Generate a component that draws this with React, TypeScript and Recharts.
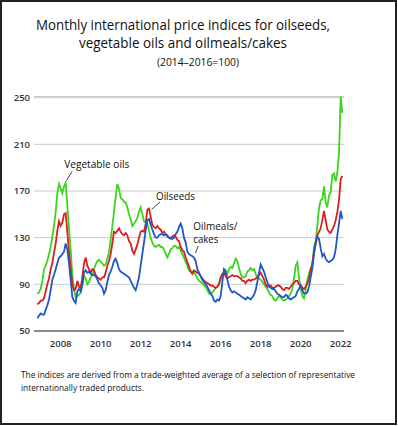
import React from 'react';
import { LineChart, Line, XAxis, YAxis, CartesianGrid } from 'recharts';

// Monthly values, January 2007 to April 2022 (2014–2016 = 100)
const START_YEAR = 2007;

const vegetableOils = [
  82, 83, 86, 93, 103, 106, 110, 116, 122, 131, 140, 152, // 2007
  168, 176, 172, 168, 174, 177, 158, 138, 120, 98, 86, 79, // 2008
  80, 81, 83, 89, 97, 95, 90, 92, 96, 98, 103, 107, // 2009
  110, 111, 109, 108, 106, 107, 112, 118, 128, 140, 152, 165, // 2010
  176, 172, 164, 163, 161, 160, 156, 150, 146, 140, 142, 144, // 2011
  147, 152, 156, 150, 144, 143, 142, 136, 130, 126, 123, 122, // 2012
  123, 124, 122, 122, 120, 116, 113, 116, 120, 121, 123, 123, // 2013
  121, 122, 119, 116, 113, 109, 106, 102, 101, 101, 100, 98, // 2014
  95, 93, 92, 91, 89, 88, 85, 82, 82, 83, 85, 87, // 2015
  88, 91, 94, 98, 100, 102, 99, 103, 105, 104, 108, 112, // 2016
  110, 104, 99, 96, 96, 97, 101, 102, 104, 102, 103, 99, // 2017
  96, 95, 94, 92, 90, 88, 86, 83, 81, 80, 77, 76, // 2018
  78, 80, 79, 77, 76, 77, 78, 80, 82, 86, 95, 106, // 2019
  109, 96, 86, 80, 78, 85, 94, 99, 104, 106, 122, 127, // 2020
  140, 155, 162, 163, 174, 160, 156, 166, 169, 184, 185, 178, // 2021
  186, 202, 251, 237, // 2022
];

const oilseeds = [
  73, 74, 76, 76, 78, 84, 90, 95, 103, 108, 117, 125,
  136, 144, 140, 143, 150, 151, 135, 118, 104, 90, 85, 86,
  93, 88, 87, 96, 108, 113, 106, 103, 100, 103, 102, 98,
  96, 95, 94, 96, 96, 100, 106, 110, 116, 125, 135, 134,
  136, 138, 135, 133, 132, 134, 132, 127, 125, 119, 116, 120,
  124, 130, 135, 136, 135, 142, 154, 155, 148, 141, 139, 138,
  140, 138, 137, 134, 135, 133, 132, 130, 129, 131, 132, 131,
  128, 127, 122, 119, 118, 113, 109, 105, 101, 99, 102, 101,
  100, 99, 97, 95, 93, 92, 91, 90, 89, 89, 88, 87,
  88, 90, 96, 99, 100, 97, 95, 96, 97, 98, 97, 97,
  97, 96, 95, 93, 93, 91, 93, 94, 93, 94, 94, 95,
  96, 98, 100, 97, 94, 90, 88, 89, 89, 87, 87, 88,
  89, 89, 88, 86, 85, 87, 87, 86, 88, 90, 91, 93,
  93, 90, 89, 87, 86, 88, 91, 95, 102, 108, 118, 124,
  132, 135, 138, 145, 153, 145, 137, 135, 134, 137, 140, 145,
  152, 162, 180, 183,
];

const oilmeals = [
  61, 63, 65, 64, 64, 68, 72, 77, 85, 94, 98, 103,
  108, 113, 114, 116, 118, 125, 120, 108, 94, 79, 76, 74,
  84, 86, 84, 90, 100, 102, 100, 101, 99, 98, 98, 97,
  94, 91, 89, 87, 82, 85, 92, 98, 101, 105, 110, 112,
  108, 103, 101, 100, 99, 98, 97, 96, 93, 90, 87, 85,
  90, 96, 106, 116, 126, 136, 145, 146, 141, 137, 133, 130,
  130, 132, 133, 133, 132, 133, 131, 130, 130, 129, 130, 133,
  135, 139, 142, 138, 130, 126, 118, 116, 115, 114, 113, 110,
  103, 100, 97, 94, 92, 90, 88, 85, 82, 80, 76, 75,
  77, 76, 80, 92, 103, 101, 94, 88, 85, 83, 84, 83,
  82, 81, 80, 79, 78, 77, 79, 78, 77, 79, 81, 85,
  92, 100, 107, 104, 101, 96, 92, 88, 87, 86, 86, 84,
  82, 81, 80, 79, 79, 81, 80, 78, 77, 78, 79, 80,
  84, 86, 89, 85, 82, 82, 83, 88, 96, 104, 116, 126,
  131, 129, 121, 114, 116, 112, 110, 109, 110, 111, 113, 120,
  132, 142, 153, 146,
];

const yearLabels = [2008, 2010, 2012, 2014, 2016, 2018, 2020, 2022];
const yTicks = [50, 90, 130, 170, 210, 250];

const data = vegetableOils.map((v, i) => ({
  m: i,
  veg: v,
  seeds: oilseeds[i],
  meals: oilmeals[i],
}));

const LABEL_SHIFT = 2; // year labels sit a little after January
const xTicks = yearLabels.map((y) => (y - START_YEAR) * 12 + LABEL_SHIFT);
const yearOf = (m: number) => String(START_YEAR + Math.round((m - LABEL_SHIFT) / 12));

const GREEN = '#3cd41c';
const RED = '#d8201c';
const BLUE = '#1f57c6';
const FONT = '"Open Sans", "Noto Sans", sans-serif';

export default function App() {
  return (
    <div style={{ position: 'relative', width: 398, height: 426, background: '#fff', fontFamily: FONT }}>
      <style>{`body{margin:0}`}</style>
      <div style={{ position: 'absolute', left: 0, top: 0 }}>
        <LineChart
          width={398}
          height={426}
          data={data}
          margin={{ top: 96.5, right: 54, bottom: 75, left: 4 }}
        >
          <CartesianGrid vertical={false} stroke="#cacaca" strokeWidth={1} />
          <XAxis
            dataKey="m"
            type="number"
            domain={[-2, 184]}
            ticks={xTicks}
            tickFormatter={yearOf}
            height={20}
            axisLine={{ stroke: '#8c8c8c', strokeWidth: 2 }}
            tickLine={false}
            tickSize={0}
            tickMargin={9}
            tick={{ fontSize: 9.5, fill: '#333', fontWeight: 600, fontFamily: FONT }}
          />
          <YAxis
            type="number"
            domain={[50, 250]}
            ticks={yTicks}
            width={30}
            axisLine={false}
            tickLine={false}
            tickSize={0}
            tickMargin={4}
            tick={{ fontSize: 9.5, fill: '#333', fontWeight: 600, fontFamily: FONT }}
          />
          <Line dataKey="veg" stroke={GREEN} strokeWidth={1.8} dot={false} isAnimationActive={false} />
          <Line dataKey="seeds" stroke={RED} strokeWidth={1.8} dot={false} isAnimationActive={false} />
          <Line dataKey="meals" stroke={BLUE} strokeWidth={1.8} dot={false} isAnimationActive={false} />
        </LineChart>
      </div>
      <svg
        width={398}
        height={426}
        style={{ position: 'absolute', left: 0, top: 0, pointerEvents: 'none' }}
        fontFamily={FONT}
      >
        <rect x={1} y={1} width={395} height={423} fill="none" stroke="#222" strokeWidth={2} />
        <text x={183} y={30} textAnchor="middle" fontSize={15} fill="#111" textLength={294} lengthAdjust="spacingAndGlyphs">
          Monthly international price indices for oilseeds,
        </text>
        <text x={183} y={48} textAnchor="middle" fontSize={15} fill="#111" textLength={208} lengthAdjust="spacingAndGlyphs">
          vegetable oils and oilmeals/cakes
        </text>
        <text x={198} y={65.5} textAnchor="middle" fontSize={10} fill="#111" textLength={82} lengthAdjust="spacingAndGlyphs">
          (2014–2016=100)
        </text>

        <text x={64.3} y={167.5} fontSize={10.5} fill="#111" textLength={65} lengthAdjust="spacingAndGlyphs">Vegetable oils</text>
        <line x1={72} y1={171.5} x2={66.5} y2={180.5} stroke="#111" strokeWidth={0.8} />
        <text x={156} y={199.5} fontSize={10.5} fill="#111" textLength={39} lengthAdjust="spacingAndGlyphs">Oilseeds</text>
        <line x1={160} y1={202} x2={151.5} y2={209.5} stroke="#111" strokeWidth={0.8} />
        <text x={193.3} y={229.5} fontSize={10.5} fill="#111" textLength={44} lengthAdjust="spacingAndGlyphs">Oilmeals/</text>
        <text x={193.3} y={243} fontSize={10.5} fill="#111" textLength={25} lengthAdjust="spacingAndGlyphs">cakes</text>
        <line x1={198.3} y1={246} x2={195.5} y2={253} stroke="#111" strokeWidth={0.8} />

        <text x={21} y={378} fontSize={8.8} fill="#111" textLength={334} lengthAdjust="spacingAndGlyphs">
          The indices are derived from a trade-weighted average of a selection of representative
        </text>
        <text x={21} y={390.5} fontSize={8.8} fill="#111" textLength={123} lengthAdjust="spacingAndGlyphs">
          internationally traded products.
        </text>
      </svg>
    </div>
  );
}
